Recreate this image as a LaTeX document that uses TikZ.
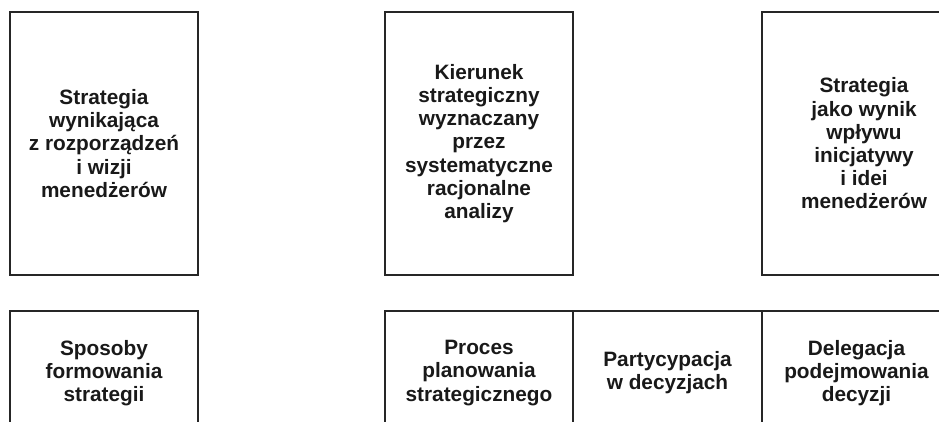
\documentclass[tikz,border=0pt]{standalone}
\usepackage{fontspec}
\setmainfont{Liberation Sans}
\begin{document}
\begin{tikzpicture}[x=1pt,y=-1pt,
  box/.style={draw=black!85, line width=1.6pt, inner sep=0pt, align=center,
    font=\bfseries\fontsize{20.8}{23.2}\selectfont, text=black!90}]
\useasboundingbox (0,0) rectangle (939,421);
\clip (0,0) rectangle (939,421);
% top row
\node[box, minimum width=188pt, minimum height=263pt] (s1) at (104,143.5)
  {Strategia\\wynikająca\\z rozporządzeń\\i wizji\\menedżerów};
\node[box, minimum width=188pt, minimum height=263pt] (s2) at (479,143.5)
  {Kierunek\\strategiczny\\wyznaczany\\przez\\systematyczne\\racjonalne\\analizy};
\node[box, minimum width=204pt, minimum height=263pt] (s3) at (864,143.5)
  {Strategia\\jako wynik\\wpływu\\inicjatywy\\i idei\\menedżerów};
% bottom row
\node[box, minimum width=188pt, minimum height=124pt] (b1) at (104,373)
  {Sposoby\\formowania\\strategii};
\node[box, minimum width=188pt, minimum height=124pt] (b2) at (479,373)
  {Proces\\planowania\\strategicznego};
\node[box, minimum width=189pt, minimum height=124pt] (b3) at (667.5,373)
  {Partycypacja\\w decyzjach};
\node[box, minimum width=189pt, minimum height=124pt] (b4) at (856.5,373)
  {Delegacja\\podejmowania\\decyzji};
\end{tikzpicture}
\end{document}
